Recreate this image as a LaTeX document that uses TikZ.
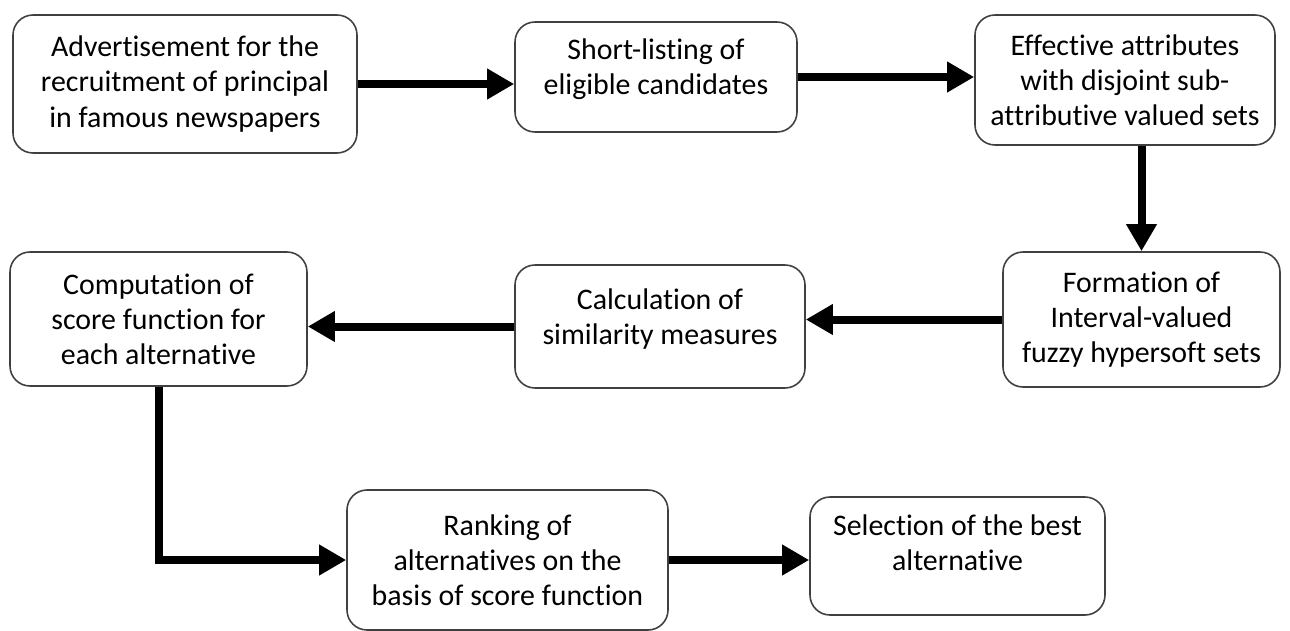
\documentclass[tikz,border=0pt]{standalone}
\usepackage{fontspec}
\setmainfont[Ligatures={NoCommon}]{Carlito}
\usepackage{tikz}
\usetikzlibrary{arrows.meta}
\usetikzlibrary{positioning}
\usepackage{xcolor}
\definecolor{boxline}{HTML}{404040}

\begin{document}
\begin{tikzpicture}[
  procbox/.style={draw=boxline,line width=0.9pt,rounded corners=0.4cm,fill=white,
    align=center,inner sep=0pt,font=\fontsize{17}{20}\selectfont},
  flowarrow/.style={line width=0.16cm,-{Triangle[length=0.54cm,width=0.58cm]}}]
\useasboundingbox (0,0) rectangle (25.8,12.6);
% top row
\node[procbox,minimum width=6.88cm,minimum height=2.76cm] (advert) at (3.70,10.92)
  {Advertisement for the\\recruitment of principal\\in famous newspapers};
\node[procbox,minimum width=5.64cm,minimum height=2.20cm,text depth=0.4cm] (shortlist) at (13.12,11.06)
  {Short-listing of\\eligible candidates};
\node[procbox,minimum width=6.00cm,minimum height=2.60cm] (attrib) at (22.50,11.00)
  {Effective attributes\\with disjoint sub-\\attributive valued sets};
% middle row
\node[procbox,minimum width=5.54cm,minimum height=2.70cm] (formation) at (22.83,6.21)
  {Formation of\\Interval-valued\\fuzzy hypersoft sets};
\node[procbox,minimum width=5.80cm,minimum height=2.46cm,text depth=0.4cm] (similar) at (13.20,6.07)
  {Calculation of\\similarity measures};
\node[procbox,minimum width=5.94cm,minimum height=2.68cm] (score) at (3.17,6.22)
  {Computation of\\score function for\\each alternative};
% bottom row
\node[procbox,minimum width=6.42cm,minimum height=2.80cm] (ranking) at (10.15,1.40)
  {Ranking of\\alternatives on the\\basis of score function};
\node[procbox,minimum width=5.90cm,minimum height=2.36cm,text depth=0.55cm] (select) at (19.15,1.48)
  {Selection of the best\\alternative};

\draw[flowarrow] (advert.east) -- (advert.east -| shortlist.west);
\draw[flowarrow] (shortlist.east) -- (shortlist.east -| attrib.west);
\draw[flowarrow] (formation.north |- attrib.south) -- (formation.north);
\draw[flowarrow] (formation.west) -- (formation.west -| similar.east);
\draw[flowarrow] (similar.west) -- (similar.west -| score.east);
\draw[flowarrow] (score.south) |- (ranking.west);
\draw[flowarrow] (ranking.east) -- (ranking.east -| select.west);
\end{tikzpicture}
\end{document}
